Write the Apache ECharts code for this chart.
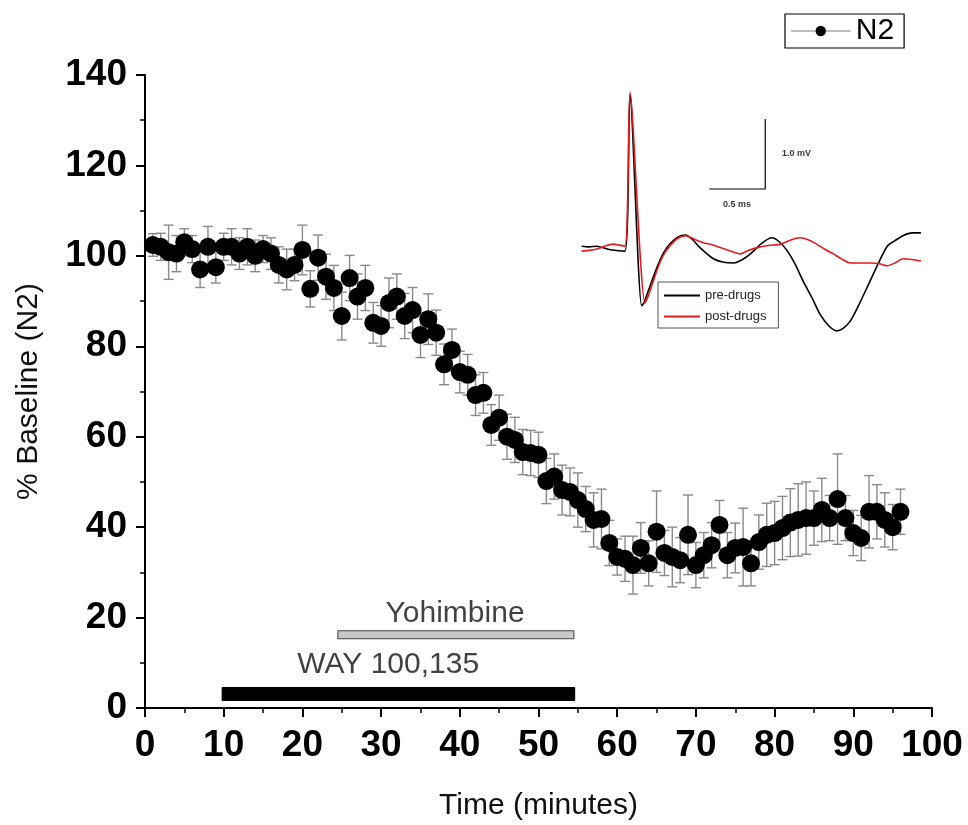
<!DOCTYPE html>
<html>
<head>
<meta charset="utf-8">
<script src="https://cdn.jsdelivr.net/npm/echarts@6/dist/echarts.min.js"></script>
<style>
html,body{margin:0;padding:0;background:#fff;}
#chart{width:968px;height:825px;}
</style>
</head>
<body>
<div id="chart"></div>
<script>
// ---- Main time course data (minutes, % baseline) ----
var times = [1,2,3,4,5,6,7,8,9,10,11,12,13,14,15,16,17,18,19,20,21,22,23,24,25,26,27,28,29,30,31,32,33,34,35,36,37,38,39,40,41,42,43,44,45,46,47,48,49,50,51,52,53,54,55,56,57,58,59,60,61,62,63,64,65,66,67,68,69,70,71,72,73,74,75,76,77,78,79,80,81,82,83,84,85,86,87,88,89,90,91,92,93,94,95,96];
var n2Values = [102.4,102,100.8,100.5,103,101.5,97,102,97.5,102,102,100.5,102,100,101.5,100.5,98,97,98,101.3,92.7,99.6,95.4,92.9,86.7,95.1,91,92.9,85.2,84.5,89.6,91,86.7,88,82.5,86,83,76,79.2,74.3,73.7,69.2,69.7,62.6,64.2,60,59.3,56.6,56.4,56,50.2,51.2,48.2,47.8,46,44,41.6,41.8,36.5,33.4,33,31.6,35.4,32,39,34.3,33.4,32.7,38.3,31.6,33.8,36,40.5,33.8,35.4,35.6,32,36.7,38.3,38.7,39.8,41,41.6,42,42,43.8,42,46.2,42,38.7,37.6,43.4,43.4,41.6,40,43.4];
var n2Errors = [2.5,3,6,4,3,3,4,4.5,3.5,3,4,3.5,4,3.5,3,3.5,4,4.5,3.5,5.5,4,5,5,5,5.3,5,5,5,4.5,4.5,5.5,5,5,5,5,5.6,5,4.5,4.6,4.6,4.5,4.5,4.5,4.5,5,5,5,5,5,5,5,5,5.5,5.3,6,5,6,6.6,5,4,5,6.4,5.6,5,9,5,6.6,5,8.8,5,5,5,5.4,5,5.5,8.6,5,6,7,7,7,7.5,8,8,6,7,5,10,5,5,5,8,6,6,5,5];

// ---- Drug application bars ----
var drugNames = ['WAY 100,135', 'Yohimbine'];
var drugStart = [9.8, 24.5];
var drugEnd = [54.6, 54.5];
var drugLevel = [3.1, 16.2];
var drugLabelX = [30.9, 39.4];
var drugLabelY = [9.6, 20.8];

// ---- Inset waveforms (ms, mV) ----
var preDrugs = [[0.015,0.04],[0.08,0.03],[0.15,0.04],[0.2,0.02],[0.27,-0.01],[0.40,-0.03],[0.446,2.21],[0.55,-0.81],[0.57,-0.77],[0.62,-0.55],[0.685,-0.27],[0.74,-0.07],[0.80,0.07],[0.87,0.17],[0.94,0.2],[1.0,0.14],[1.07,0.02],[1.19,-0.14],[1.28,-0.19],[1.37,-0.2],[1.45,-0.15],[1.52,-0.07],[1.62,0.08],[1.71,0.16],[1.78,0.1],[1.85,-0.03],[1.92,-0.22],[1.99,-0.46],[2.07,-0.7],[2.14,-0.93],[2.22,-1.1],[2.29,-1.17],[2.35,-1.13],[2.41,-1.03],[2.48,-0.82],[2.56,-0.55],[2.65,-0.24],[2.74,0.04],[2.81,0.12],[2.88,0.19],[2.96,0.23],[3.04,0.23]];
var postDrugs = [[0.015,-0.03],[0.08,-0.02],[0.15,0.0],[0.22,0.04],[0.29,0.07],[0.40,0.04],[0.446,2.24],[0.58,-0.77],[0.62,-0.62],[0.685,-0.31],[0.74,-0.1],[0.80,0.04],[0.87,0.15],[0.94,0.19],[1.02,0.14],[1.10,0.09],[1.18,0.06],[1.25,0.02],[1.34,-0.03],[1.43,-0.07],[1.50,-0.02],[1.58,0.02],[1.68,0.05],[1.79,0.07],[1.88,0.13],[1.96,0.16],[2.04,0.13],[2.11,0.07],[2.18,0.0],[2.26,-0.07],[2.33,-0.14],[2.41,-0.2],[2.50,-0.2],[2.59,-0.2],[2.67,-0.21],[2.74,-0.24],[2.81,-0.2],[2.88,-0.14],[2.96,-0.15],[3.04,-0.17]];
var scaleBar = [[1.152,0.857],[1.652,0.857],[1.652,1.857]];
var scaleLabels = [{value:[1.93,1.37], text:'1.0 mV'},{value:[1.40,0.64], text:'0.5 ms'}];

var mainData = times.map(function(t,i){return [t, n2Values[i]];});
var errData = times.map(function(t,i){return [t, n2Values[i]-n2Errors[i], n2Values[i]+n2Errors[i]];});
var drugData = drugNames.map(function(n,i){return [drugStart[i], drugEnd[i], drugLevel[i], i];});
var drugLabelData = drugNames.map(function(n,i){return {value:[drugLabelX[i], drugLabelY[i]], name:n};});

var FONT = 'Liberation Sans, Arial, sans-serif';
var chart = echarts.init(document.getElementById('chart'), null, {renderer:'canvas'});

var option = {
  animation: false,
  backgroundColor: '#fff',
  textStyle: {fontFamily: FONT},
  grid: [
    {left:145, right:36, top:75, bottom:117, containLabel:false, outerBoundsMode:'none'},
    {left:580, width:342, top:88, height:252, outerBoundsMode:'none'}
  ],
  legend: [
    {
      data:['N2'], left:785, top:14, orient:'horizontal',
      borderColor:'#000', borderWidth:1.2, padding:[2,10,2,5],
      itemWidth:60, itemHeight:13, itemGap:4,
      textStyle:{fontSize:30, color:'#000', fontFamily:FONT},
      lineStyle:{color:'#aaa', width:1.5}
    },
    {
      data:[{name:'pre-drugs', icon:'rect'},{name:'post-drugs', icon:'rect'}],
      left:658, top:282, orient:'vertical',
      borderColor:'#555', borderWidth:1, padding:[7,12,5,6],
      itemWidth:36, itemHeight:2, itemGap:8, backgroundColor:'#fff',
      textStyle:{fontSize:13, color:'#222', fontFamily:FONT}
    }
  ],
  xAxis: [
    {
      gridIndex:0, type:'value', min:0, max:100, interval:10,
      axisLine:{show:true, lineStyle:{color:'#000', width:2}},
      axisTick:{show:true, inside:false, length:9, lineStyle:{color:'#000', width:2}},
      minorTick:{show:true, splitNumber:2, length:5, lineStyle:{color:'#000', width:1.5}},
      splitLine:{show:false},
      axisLabel:{fontSize:37, fontWeight:'bold', color:'#000', margin:19, fontFamily:FONT},
      name:'Time (minutes)', nameLocation:'middle', nameGap:83,
      nameTextStyle:{fontSize:30, color:'#111', fontFamily:FONT}
    },
    {gridIndex:1, type:'value', min:0, max:3.05, show:false}
  ],
  yAxis: [
    {
      gridIndex:0, type:'value', min:0, max:140, interval:20,
      axisLine:{show:true, lineStyle:{color:'#000', width:2}},
      axisTick:{show:true, inside:false, length:9, lineStyle:{color:'#000', width:2}},
      minorTick:{show:true, splitNumber:2, length:5, lineStyle:{color:'#000', width:1.5}},
      splitLine:{show:false},
      axisLabel:{fontSize:37, fontWeight:'bold', color:'#000', margin:18, fontFamily:FONT},
      name:'% Baseline (N2)', nameLocation:'middle', nameGap:101, nameRotate:90,
      nameTextStyle:{fontSize:30, color:'#111', fontFamily:FONT}
    },
    {gridIndex:1, type:'value', min:-1.3, max:2.3, show:false}
  ],
  series: [
    {
      type:'custom', name:'err', xAxisIndex:0, yAxisIndex:0, z:2,
      encode:{x:0, y:[1,2]},
      data: errData,
      renderItem: function(params, api){
        var x = api.value(0), lo = api.value(1), hi = api.value(2);
        var p1 = api.coord([x, hi]), p2 = api.coord([x, lo]);
        var w = 5, st = {stroke:'#8a8a8a', lineWidth:1.4};
        return {type:'group', children:[
          {type:'line', shape:{x1:p1[0], y1:p1[1], x2:p2[0], y2:p2[1]}, style:st},
          {type:'line', shape:{x1:p1[0]-w, y1:p1[1], x2:p1[0]+w, y2:p1[1]}, style:st},
          {type:'line', shape:{x1:p2[0]-w, y1:p2[1], x2:p2[0]+w, y2:p2[1]}, style:st}
        ]};
      }
    },
    {
      type:'line', name:'N2', xAxisIndex:0, yAxisIndex:0, z:3,
      data: mainData, symbol:'circle', symbolSize:18, showSymbol:true, showAllSymbol:true,
      lineStyle:{width:0, color:'#000'}, itemStyle:{color:'#000'}
    },
    {
      type:'custom', name:'drugs', xAxisIndex:0, yAxisIndex:0, z:2,
      data: drugData,
      renderItem: function(params, api){
        var s = api.value(0), e = api.value(1), lv = api.value(2), idx = api.value(3);
        var a = api.coord([s, lv]), b = api.coord([e, lv]);
        var h = idx === 0 ? 13 : 8;
        return {type:'rect', shape:{x:a[0], y:a[1]-h/2, width:b[0]-a[0], height:h},
          style:{fill: idx === 0 ? '#000' : '#c8c8c8', stroke: idx === 0 ? '#000' : '#444', lineWidth:1}};
      }
    },
    {
      type:'scatter', name:'drugLabels', xAxisIndex:0, yAxisIndex:0, symbolSize:0,
      data: drugLabelData,
      label:{show:true, position:'inside', formatter:'{b}', fontSize:30, color:'#111', fontFamily:FONT}
    },
    {
      type:'line', name:'pre-drugs', xAxisIndex:1, yAxisIndex:1, data:preDrugs,
      symbol:'none', smooth:0.25, lineStyle:{color:'#000', width:1.6}, itemStyle:{color:'#000'}, z:5
    },
    {
      type:'line', name:'post-drugs', xAxisIndex:1, yAxisIndex:1, data:postDrugs,
      symbol:'none', smooth:0.25, lineStyle:{color:'#e8191c', width:1.6}, itemStyle:{color:'#e8191c'}, z:6
    },
    {
      type:'line', name:'scalebar', xAxisIndex:1, yAxisIndex:1, data:scaleBar,
      symbol:'none', lineStyle:{color:'#000', width:1.2}, z:5
    },
    {
      type:'scatter', name:'scaleLabels', xAxisIndex:1, yAxisIndex:1, symbolSize:0,
      data: scaleLabels.map(function(d){return {value:d.value, name:d.text};}),
      label:{show:true, position:'inside', formatter:'{b}', fontSize:9, fontWeight:'bold', color:'#000', fontFamily:FONT}
    }
  ]
};
chart.setOption(option);
</script>
</body>
</html>
